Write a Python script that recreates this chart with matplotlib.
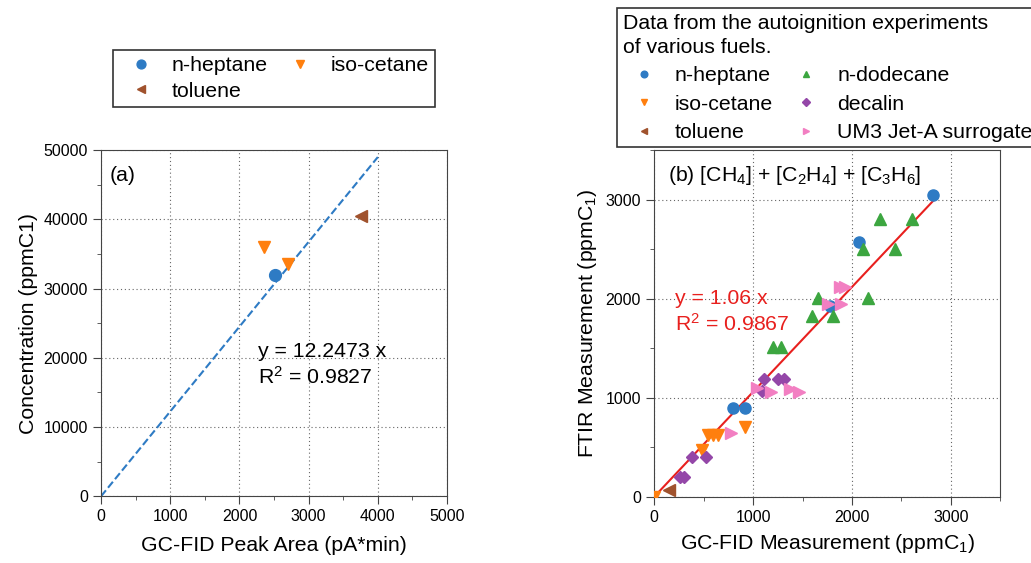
import matplotlib.pyplot as plt
from matplotlib.ticker import MultipleLocator

plt.rcParams['font.family'] = ['Liberation Sans', 'DejaVu Sans']
plt.rcParams['mathtext.fontset'] = 'custom'
plt.rcParams['mathtext.rm'] = 'Liberation Sans'
plt.rcParams['mathtext.it'] = 'Liberation Sans'

# (a) calibration points
a_hep_x = [2520]
a_hep_y = [32000]
a_iso_x = [2355, 2707]
a_iso_y = [36000, 33500]
a_tol_x = [3753]
a_tol_y = [40450]
a_slope = 12.2473
a_fit_x = [0, 4000]

# (b) FTIR vs GC-FID
hep_x = [2821, 2069, 1776, 792, 920]
hep_y = [3050, 2571, 1928, 893, 893]
iso_x = [0, 479, 540, 590, 640, 920]
iso_y = [0, 472, 620, 620, 623, 708]
tol_x = [152]
tol_y = [65]
dod_x = [2288, 2612, 2113, 2433, 1658, 2167, 1597, 1810, 1196, 1277]
dod_y = [2804, 2804, 2500, 2500, 2005, 2005, 1830, 1830, 1510, 1510]
dec_x = [260, 300, 384, 522, 1109, 1092, 1254, 1311]
dec_y = [200, 200, 404, 404, 1190, 1072, 1190, 1190]
um3_x = [772, 1035, 1180, 1372, 1466, 1759, 1887, 1880, 1925]
um3_y = [640, 1095, 1062, 1085, 1062, 1948, 1948, 2123, 2123]
b_slope = 1.06
b_fit_x = [0, 2821]

blue = '#2e7bc4'
orange = '#ff7f0e'
brown = '#a0522d'
green = '#3ca640'
purple = '#9447a8'
pink = '#f27fc2'
fs = 15.3

fig = plt.figure(figsize=(10.31, 5.63), dpi=100)
ax1 = fig.add_axes([0.098, 0.1185, 0.3356, 0.6150])
ax2 = fig.add_axes([0.6346, 0.1178, 0.3356, 0.6150])

for ax in (ax1, ax2):
    for s in ax.spines.values():
        s.set_color('#444444')
    ax.tick_params(which='both', direction='out', colors='#444444',
                   labelcolor='black', labelsize=11.5)
    ax.tick_params(which='major', length=6)
    ax.tick_params(which='minor', length=3)
    ax.grid(True, which='major', linestyle=(0, (1, 2.5)), color='#666666', linewidth=0.8)
    ax.set_axisbelow(True)

# --- panel (a)
ms = 8.5
ax1.plot(a_fit_x, [a_slope * v for v in a_fit_x], linestyle='--', color=blue, linewidth=1.5)
p1, = ax1.plot(a_hep_x, a_hep_y, 'o', color=blue, markersize=ms, label='n-heptane')
p2, = ax1.plot(a_iso_x, a_iso_y, 'v', color=orange, markersize=ms, label='iso-cetane')
p3, = ax1.plot(a_tol_x, a_tol_y, '<', color=brown, markersize=ms, label='toluene')
ax1.set_xlim(0, 5000)
ax1.set_ylim(0, 50000)
ax1.xaxis.set_major_locator(MultipleLocator(1000))
ax1.xaxis.set_minor_locator(MultipleLocator(500))
ax1.yaxis.set_major_locator(MultipleLocator(10000))
ax1.yaxis.set_minor_locator(MultipleLocator(5000))
ax1.set_xlabel('GC-FID Peak Area (pA*min)', fontsize=fs, labelpad=8)
ax1.set_ylabel('Concentration (ppmC1)', fontsize=fs, labelpad=4)
ax1.text(0.025, 0.955, '(a)', transform=ax1.transAxes, fontsize=fs, va='top')
ax1.text(0.455, 0.38, 'y = 12.2473 x\nR$^2$ = 0.9827', transform=ax1.transAxes,
         fontsize=fs, va='center', linespacing=1.3)
# row-major order: heptane, iso-cetane / toluene
leg1 = ax1.legend(handles=[p1, p3, p2], loc='lower center', bbox_to_anchor=(0.5, 1.124),
                  borderaxespad=0, ncol=2, fontsize=fs, frameon=True, fancybox=False,
                  edgecolor='black', markerscale=0.75, handlelength=2.0,
                  handletextpad=0.45, columnspacing=0.5, borderpad=0.3, labelspacing=0.3)
leg1.get_frame().set_linewidth(1.2)

# --- panel (b)
ms2 = 8
ax2.plot(b_fit_x, [b_slope * v for v in b_fit_x], color='#e8201e', linewidth=1.5, zorder=3)
h1, = ax2.plot(hep_x, hep_y, 'o', color=blue, markersize=ms2, label='n-heptane', zorder=4)
h2, = ax2.plot(iso_x, iso_y, 'v', color=orange, markersize=ms2, label='iso-cetane', zorder=4)
h3, = ax2.plot(tol_x, tol_y, '<', color=brown, markersize=ms2, label='toluene', zorder=4)
h4, = ax2.plot(dod_x, dod_y, '^', color=green, markersize=ms2, label='n-dodecane', zorder=4)
h5, = ax2.plot(dec_x, dec_y, 'D', color=purple, markersize=ms2 - 1.5, label='decalin', zorder=4)
h6, = ax2.plot(um3_x, um3_y, '>', color=pink, markersize=ms2, label='UM3 Jet-A surrogate', zorder=4)
ax2.set_xlim(0, 3500)
ax2.set_ylim(0, 3500)
ax2.xaxis.set_major_locator(MultipleLocator(1000))
ax2.xaxis.set_minor_locator(MultipleLocator(500))
ax2.yaxis.set_major_locator(MultipleLocator(1000))
ax2.yaxis.set_minor_locator(MultipleLocator(500))
ax2.set_xlabel('GC-FID Measurement (ppmC$_1$)', fontsize=fs, labelpad=5)
ax2.set_ylabel('FTIR Measurement (ppmC$_1$)', fontsize=fs, labelpad=5)
ax2.text(0.04, 0.96, '(b) [CH$_4$] + [C$_2$H$_4$] + [C$_3$H$_6$]', transform=ax2.transAxes,
         fontsize=fs, va='top')
ax2.text(0.06, 0.533, 'y = 1.06 x\nR$^2$ = 0.9867', transform=ax2.transAxes,
         fontsize=fs, va='center', color='#e8201e', linespacing=1.3)
leg2 = ax2.legend(handles=[h1, h2, h3, h4, h5, h6], loc='upper left',
                  bbox_to_anchor=(-0.107, 1.41), borderaxespad=0, ncol=2, fontsize=fs,
                  title='Data from the autoignition experiments\nof various fuels.',
                  title_fontsize=fs, alignment='left',
                  frameon=True, fancybox=False, edgecolor='black',
                  markerscale=0.6, handlelength=2.0, handletextpad=0.45, columnspacing=0.58,
                  borderpad=0.25, labelspacing=0.44)
leg2.get_title().set_linespacing(1.35)
leg2.get_frame().set_linewidth(1.2)

fig.savefig('out.png', dpi=100)
